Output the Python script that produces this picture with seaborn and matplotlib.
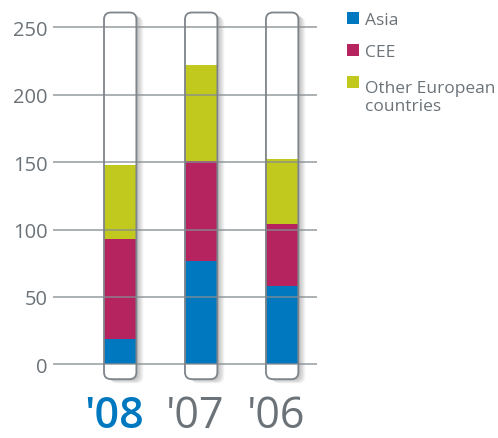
import pandas as pd
import matplotlib
matplotlib.use("Agg")
from matplotlib import pyplot as plt
from matplotlib.patches import FancyBboxPatch, Rectangle
from matplotlib.transforms import ScaledTranslation
import seaborn as sns

# data ~~~~~~~~~~~~~~~~~~~~~~~~~~~~~~~~~~~~~~~~~~~~~~~~~~~~~~~~~~~~~~~~~
years = ["'08", "'07", "'06"]
asia = [19, 77, 58]
cee = [74, 74, 46]
other = [55, 71, 48]
series = ["Asia", "CEE", "Other European\ncountries"]
colors = ["#0078c0", "#b5245f", "#c1c91e"]
yticks = [0, 50, 100, 150, 200, 250]

grey = "#6b7379"
line_grey = "#858c91"

sns.set_style("white")
plt.rcParams['font.family'] = ['Open Sans', 'DejaVu Sans']

df = pd.DataFrame({'year': years, 'Asia': asia, 'CEE': cee, 'Other': other})
df['top_cee'] = df['Asia'] + df['CEE']
df['top_other'] = df['top_cee'] + df['Other']

fig = plt.figure(figsize=(4.98, 4.39), dpi=100)
ax = fig.add_axes([0.1064, 0.1230, 0.5301, 0.8542])

# capsules behind the bars (shadow + white fill)
r = 0.086
asp = 60
for i in range(len(years)):
    for k in range(1, 8):
        sh = FancyBboxPatch((i - 0.2 + k * 1.0 / 81, -11 - k * 0.6 / 1.348), 0.4, 272,
                            boxstyle=f"round,pad=0,rounding_size={r}", mutation_aspect=asp,
                            fc="black", ec="none", alpha=0.04, zorder=0.5, clip_on=False)
        ax.add_patch(sh)
    ax.add_patch(FancyBboxPatch((i - 0.2, -11), 0.4, 272,
                                boxstyle=f"round,pad=0,rounding_size={r}", mutation_aspect=asp,
                                fc="white", ec="none", zorder=1, clip_on=False))

# stacked bars: tallest first, overlapped
sns.barplot(data=df, x='year', y='top_other', order=years, color=colors[2],
            width=0.4, saturation=1, ax=ax, zorder=2, linewidth=0, edgecolor='none')
sns.barplot(data=df, x='year', y='top_cee', order=years, color=colors[1],
            width=0.4, saturation=1, ax=ax, zorder=2, linewidth=0, edgecolor='none')
sns.barplot(data=df, x='year', y='Asia', order=years, color=colors[0],
            width=0.4, saturation=1, ax=ax, zorder=2, linewidth=0, edgecolor='none')

# capsule outlines on top
for i in range(len(years)):
    ax.add_patch(FancyBboxPatch((i - 0.2, -11), 0.4, 272,
                                boxstyle=f"round,pad=0,rounding_size={r}", mutation_aspect=asp,
                                fc="none", ec="#7d848a", lw=1.3, zorder=5, clip_on=False))

for y in yticks:
    ax.axhline(y, color=line_grey, lw=1.2, alpha=0.8, zorder=4)

ax.set_xlim(-0.83, 2.43)
ax.set_ylim(-14.6, 263.6)
ax.set_yticks(yticks)
ax.set_xlabel("")
ax.set_ylabel("")
sns.despine(ax=ax, left=True, bottom=True)
ax.tick_params(axis='y', length=0, pad=4, labelsize=14.5, labelcolor=grey)
ax.tick_params(axis='x', length=0, pad=7, labelsize=31)
shift = ScaledTranslation(-6 / 100, 0, fig.dpi_scale_trans)
for j, lab in enumerate(ax.get_xticklabels()):
    lab.set_color(colors[0] if j == 0 else grey)
    if j == 0:
        lab.set_fontweight('semibold')
    lab.set_transform(lab.get_transform() + shift)

# legend ~~~~~~~~~~~~~~~~~~~~~~~~~~~~~~~~~~~~~~~~~~~~~~~~~~~~~~~~~~~~~~~~
W, H = 498, 439
for name, c, top, base in zip(series, colors, [13, 45, 77], [25, 57, 111]):
    fig.patches.append(Rectangle((347 / W, 1 - (top + 12) / H), 12 / W, 12 / H,
                                 transform=fig.transFigure, fc=c, ec="none"))
    fig.text(365 / W, 1 - base / H, name, fontsize=12.5, color=grey,
             va='baseline', ha='left', linespacing=1.2)

fig.savefig("out.png", dpi=100)
